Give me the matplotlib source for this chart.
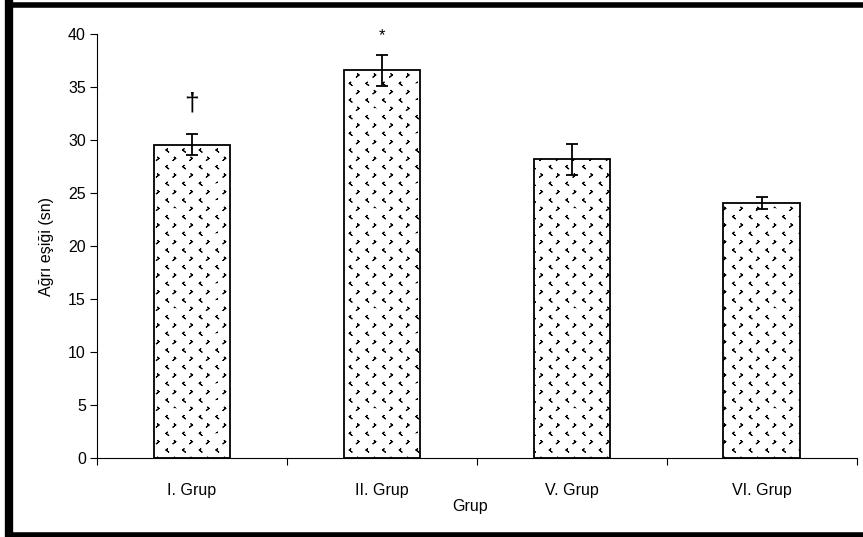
import numpy as np
import matplotlib.pyplot as plt
import matplotlib.hatch as mhatch
from matplotlib.path import Path
from matplotlib.lines import Line2D

plt.rcParams['font.family'] = ['Liberation Sans', 'DejaVu Sans']
plt.rcParams['hatch.color'] = '#5a5a5a'
plt.rcParams['hatch.linewidth'] = 0.75

groups = ['I. Grup', 'II. Grup', 'V. Grup', 'VI. Grup']
means = [29.6, 36.6, 28.2, 24.1]
errs = [1.0, 1.5, 1.45, 0.55]
marks = ['†', '*', '', '']


class Chevrons(mhatch.HatchPatternBase):
    # rows of small '<' and '>' signs, like the old spreadsheet fill
    cols = 6
    rows = 12

    def __init__(self, hatch, density):
        self.on = hatch.count('.') > 0
        n = 0
        if self.on:
            for i in range(self.rows + 1):
                n += (self.cols + 1) if i % 2 == 0 else self.cols
        self.num_vertices = n * 5

    def set_vertices_and_codes(self, vertices, codes):
        w, h = 0.007, 0.011
        k = 0
        for i in range(self.rows + 1):
            y = i / self.rows
            if i % 2 == 0:
                xs = np.linspace(0, 1, self.cols + 1)
                d = 1
            else:
                xs = (np.arange(self.cols) + 0.5) / self.cols
                d = -1
            for x in xs:
                p1 = (x + d * w, y + h)
                p2 = (x - d * w, y)
                p3 = (x + d * w, y - h)
                vertices[k:k + 5] = [p1, p2, p3, p2, p1]
                codes[k:k + 5] = [Path.MOVETO] + [Path.LINETO] * 4
                k += 5


mhatch._hatch_types = [t for t in mhatch._hatch_types
                       if t is not mhatch.SmallFilledCircles] + [Chevrons]

fig = plt.figure(figsize=(8.63, 5.37), dpi=100)
ax = fig.add_axes([0.1124, 0.1471, 0.8806, 0.7887])

pos = [i + 0.5 for i in range(len(groups))]
ax.bar(pos, means, width=0.405, color='white', edgecolor='black',
       linewidth=1.3, hatch='.', zorder=2)
ax.errorbar(pos, means, yerr=errs, fmt='none', ecolor='black',
            elinewidth=1.3, capsize=4.5, capthick=1.3, zorder=3)

for p, m, e, t in zip(pos, means, errs, marks):
    if t == '†':
        ax.text(p, m + e + 2.9, t, ha='center', va='center', fontsize=19)
    elif t:
        ax.text(p, m + e + 1.8, t, ha='center', va='center', fontsize=12)

ax.set_xlim(0, len(groups))
ax.set_ylim(0, 40)
ax.set_yticks(range(0, 41, 5))
ax.set_xticks(range(0, len(groups) + 1))
ax.set_xticklabels([])
ax.set_xticks(pos, minor=True)
ax.set_xticklabels(groups, minor=True)
ax.tick_params(axis='x', which='minor', length=0, pad=18, labelsize=11.5)
ax.tick_params(axis='x', which='major', length=5, width=0.8, direction='out')
ax.tick_params(axis='y', length=5, width=0.8, direction='out', labelsize=11.5, pad=3)

for s in ['top', 'right']:
    ax.spines[s].set_visible(False)
for s in ['left', 'bottom']:
    ax.spines[s].set_linewidth(0.8)

ax.set_ylabel('Ağrı eşiği (sn)', fontsize=11.5, labelpad=10)
fig.text(470 / 863, 1 - 507 / 537, 'Grup', ha='center', va='center', fontsize=11.5)

# outer frame (right edge falls off the picture)
fig.add_artist(Line2D([9 / 863, 1.01], [1 - 4.5 / 537] * 2, transform=fig.transFigure,
                      color='black', linewidth=4))
fig.add_artist(Line2D([9 / 863] * 2, [1 - 2 / 537, 0], transform=fig.transFigure,
                      color='black', linewidth=6))
fig.add_artist(Line2D([9 / 863, 1.01], [2 / 537] * 2, transform=fig.transFigure,
                      color='black', linewidth=4))

fig.savefig('out.png', dpi=100)
